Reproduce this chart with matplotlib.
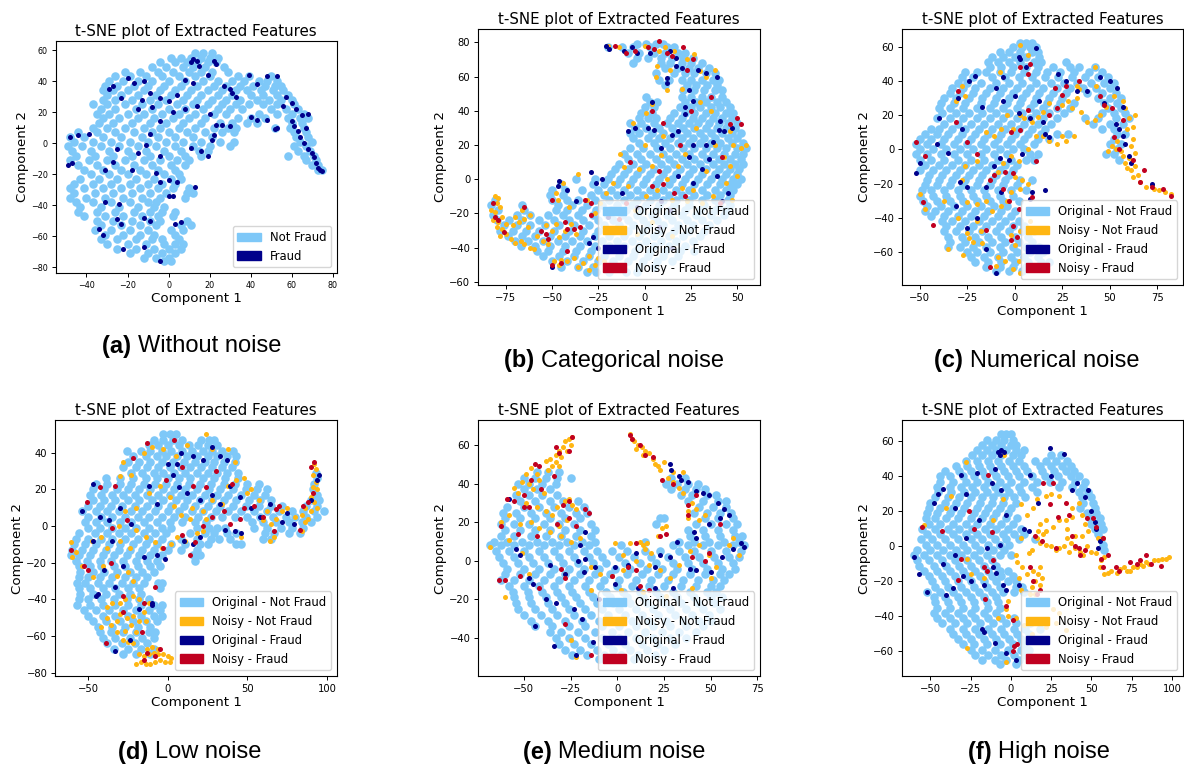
import numpy as np
import matplotlib
matplotlib.use("Agg")
import matplotlib.pyplot as plt
from matplotlib.patches import Patch

TITLE = "t-SNE plot of Extracted Features"
XLABEL = "Component 1"
YLABEL = "Component 2"
LEGEND_2 = ["Not Fraud", "Fraud"]
LEGEND_4 = ["Original - Not Fraud", "Noisy - Not Fraud", "Original - Fraud", "Noisy - Fraud"]
C_BLUE, C_ORANGE, C_NAVY, C_RED = "#7EC8F8", "#FFB612", "#00008B", "#C00020"

# Point clouds: (y, [x, ...]) rows for the dense class, (x, y) for the rest
a_blue = [(58,[13,17,21]),(55,[1,6,11,16,20,24]),(52,[-4,3,9,14,19,23]),(49,[-8,-1,7,12,18,27]),
(46,[-21,-14,-5,2,10,16,21,29]),(43,[-26,-19,-11,-3,5,13,20,34,39,50]),(40,[-29,-22,-15,-8,0,8,17,24,31,37,44,48,53]),
(37,[-31,-25,-17,-10,-2,6,14,22,28,35,41,47,52,55]),(34,[-32,-27,-20,-12,-4,3,11,19,26,33,38,45,51,56]),
(31,[-30,-23,-15,-6,1,9,16,24,31,40,46,53,58]),(28,[-32,-26,-18,-9,-1,7,14,21,28,35,43,49,55,60]),
(25,[-37,-30,-21,-13,-5,4,12,19,26,33,39,46,53,61]),(22,[-33,-26,-16,-8,0,8,17,24,30,36,50,57,63]),
(19,[-35,-29,-20,-12,-3,5,13,22,28,44,53,60,66]),(16,[-32,-24,-15,-7,2,10,18,34,40,47,58,64,68]),
(13,[-34,-27,-18,-9,-1,7,16,25,31,38,43,60,65]),(10,[-37,-30,-21,-12,-4,5,13,22,29,33,52,59,66]),
(7,[-44,-35,-26,-17,-8,0,9,18,26,32,61,67]),(4,[-48,-41,-32,-23,-13,-5,3,12,21,62,68]),
(1,[-46,-37,-28,-19,-10,-1,7,16,25,32,64,70]),(-2,[-49,-42,-33,-24,-15,-6,3,12,20,30,61,67]),
(-5,[-47,-38,-29,-20,-11,-2,6,15,19,63,69]),(-8,[-45,-36,-27,-18,-9,0,8,16,58,66,71]),
(-11,[-48,-39,-30,-21,-12,-4,4,10,67,72]),(-14,[-44,-35,-26,-17,-8,1,8,70,73]),(-17,[-41,-32,-23,-14,-5,3,73,75]),
(-20,[-38,-29,-20,-11,-2,5]),(-23,[-43,-34,-25,-16,-7,1,6]),(-26,[-46,-37,-28,-19,-10,-3,3]),
(-29,[-48,-41,-32,-23,-14,-5,2,10]),(-32,[-46,-36,-27,-18,-9,-1,9,12]),(-35,[-48,-40,-31,-22,-13,-4,8]),
(-38,[-45,-37,-28,-19,-10,-6]),(-41,[-43,-33,-24,-15,-7,-2]),(-44,[-44,-35,-26,-17,-9,-3,3]),
(-47,[-41,-31,-22,-13,-5,2]),(-50,[-35,-27,-18,-9,-4,9]),(-53,[-33,-23,-14,-6,6,11]),
(-56,[-36,-28,-19,-10,1,7]),(-59,[-31,-22,-14,-7,3]),(-62,[-33,-25,-16,-8,-3,5]),
(-65,[-30,-20,-11,-2,3,7]),(-68,[-25,-16,-7,0,6]),(-71,[-19,-10,-3,3]),(-74,[-12,-6,0]),(-76,[-2,1])]
a_navy = [(12,54),(14,53),(15,50),(11,52),(22,53),(23,51),(-20,42),(-17,39),(-12,40),(-29,35),(-27,37),(-23,29),(-13,28),
(-9,32),(-4,29),(0,27),(4,31),(8,41),(12,39),(19,44),(27,37),(30,35),(31,32),(33,30),(39,44),(48,43),(53,43),(43,38),
(-15,22),(-8,23),(2,20),(8,22),(14,24),(20,19),(26,12),(23,12),(22,5),(21,2),(30,11),(40,17),(43,15),(48,15),
(52,9),(53,10),(57,30),(60,26),(56,24),(62,22),(65,18),(68,19),(60,14),(61,11),(63,8),(67,10),(64,4),(66,0),(68,-4),
(70,-6),(71,-9),(72,-13),(74,-17),(75,-18),(73,-16),(-39,6),(-44,5),(-48,4),(-49,-14),(-47,-13),(-31,-17),(-27,-12),(-18,-17),
(-15,-6),(-11,-1),(-4,-8),(-6,-19),(-4,-25),(0,-24),(4,-25),(0,-34),(2,-34),(13,-28),(-24,-39),(-31,-38),(-25,-49),(-23,-52),
(-9,-50),(-12,-48),(-34,-55),(-32,-59),(-22,-68),(-12,-67),(-4,-76),(3,-52),(6,-51),(-25,-4),(-9,6),(-4,14),(11,-3),(19,-8),(16,-5)]

b_blue = [(79,[-4,1,6,10]),(77,[-20,-12,-6,3,12,16]),(74,[-9,-3,5,11,18,22]),(71,[-4,2,9,15,21,26]),(68,[-6,9,14,20,25,31]),
(65,[11,18,24,29,35]),(62,[6,16,22,27,33,38]),(58,[8,13,20,25,31,37,40]),(55,[11,23,28,34,39]),(52,[21,27,32,38,42]),
(48,[1,20,25,31,36,42]),(45,[3,7,22,28,33,39,44]),(42,[0,5,19,25,30,36,41,46]),(39,[-2,4,16,22,27,33,38,44,48]),
(36,[-3,2,6,14,20,26,31,37,42,47]),(33,[-8,-2,5,12,18,24,29,35,40,45,50]),(30,[-5,1,8,15,21,27,33,39,44,49]),
(27,[-8,-3,4,10,17,23,30,36,42,47,52]),(24,[-6,2,8,14,20,26,32,38,45,50]),(21,[-3,5,11,18,24,30,36,41,47,53]),
(18,[-8,-1,7,14,21,27,33,39,44,50,55]),(15,[-11,-4,3,10,17,24,31,37,43,49,53]),(12,[-9,-2,6,13,20,27,34,40,46,52]),
(9,[-14,-6,1,9,16,23,30,37,43,49,53]),(6,[-16,-9,-2,5,12,19,26,33,40,46,51]),(3,[-18,-11,-4,3,10,17,24,31,38,44,50]),
(0,[-37,-27,-20,-13,-6,1,8,15,22,29,36,42,48,52]),(-3,[-45,-28,-22,-15,-8,-1,6,13,20,27,34,41,46,50]),
(-6,[-50,-43,-34,-25,-18,-11,-4,3,10,17,24,31,38,44,48]),(-9,[-51,-44,-29,-22,-15,-8,-1,6,13,20,27,34,41,46]),
(-12,[-81,-50,-42,-36,-27,-19,-11,-4,3,10,17,24,31,38,45]),(-15,[-83,-66,-47,-39,-31,-23,-15,-7,1,8,16,24,32,40,46]),
(-18,[-79,-65,-48,-42,-34,-26,-18,-10,-2,6,14,22,30,38,44]),(-21,[-82,-69,-62,-52,-44,-36,-28,-20,-12,-4,4,12,20,28,36,43]),
(-24,[-80,-73,-66,-57,-49,-41,-33,-25,-17,-9,-1,7,15,23,31,39]),(-27,[-76,-69,-62,-54,-46,-38,-30,-22,-14,-6,2,10,18,26,35]),
(-30,[-78,-71,-64,-57,-49,-41,-33,-25,-17,-9,-1,8,16,24,32]),(-33,[-74,-66,-59,-51,-43,-35,-27,-19,-11,-3,5,13,21,30]),
(-36,[-70,-63,-55,-47,-39,-31,-23,-15,-7,1,9,17,26]),(-39,[-67,-59,-51,-43,-35,-27,-19,-11,-3,5,13,22]),
(-42,[-58,-52,-44,-37,-29,-21,-13,-5,3,11,19,27]),(-45,[-55,-46,-38,-30,-22,-14,-6,2,10,18]),
(-48,[-50,-42,-33,-25,-17,-9,-1,7,15]),(-51,[-45,-36,-28,-20,-12,-3,5]),(-54,[-31,-26,-19,-10,-4])]
b_orange = [(-81,-10),(-80,-14),(-79,-11),(-83,-18),(-81,-19),(-78,-16),(-82,-24),(-79,-25),(-77,-22),(-80,-28),(-77,-29),(-75,-26),
(-78,-33),(-75,-32),(-72,-35),(-71,-27),(-68,-25),(-70,-22),(-66,-18),(-65,-23),(-62,-21),(-63,-28),(-67,-36),(-70,-37),(-65,-38),(-62,-40),
(-60,-41),(-58,-33),(-55,-36),(-52,-38),(-50,-30),(-53,-27),(-48,-26),(-46,-34),(-43,-30),(-40,-26),(-37,-32),(-45,-47),(-49,-48),(-46,-50),
(-42,-48),(-38,-46),(-36,-51),(-33,-49),(-30,-45),(-30,-53),(-27,-50),(-25,-46),(-22,-48),(-41,-16),(-48,-8),(-47,-12),(-44,-2),(-36,3),
(-31,-12),(-27,-20),(-24,-14),(-21,-8),(-17,-2),(-13,15),(-9,-4),(-11,7),(-5,-18),(-3,6),(1,-10),(4,8),(7,-6),(9,14),(12,0),(15,-12),(18,8),(20,-5),
(-6,33),(1,39),(4,44),(12,52),(7,66),(6,60),(14,64),(20,53),(11,77),(16,75),(23,70),(27,73),(30,63),(33,60),(38,64),(30,45),(36,40),(28,30),(38,20),(46,28),
(43,13),(48,20),(52,18),(55,20),(46,8),(50,2),(44,-2),(47,-12),(33,5),(26,-6),(31,-14),(37,-10),(23,-13),(8,75),(0,78),(-14,77),(-20,78),(0,20),(10,25),(22,15),(4,-25),(-4,-32),(15,-33)]
b_navy = [(-21,78),(-19,76),(-11,75),(-7,77),(-4,74),(3,74),(14,75),(17,71),(17,66),(20,65),(12,59),(12,56),(29,64),(33,62),(39,60),(24,52),(26,46),(22,42),(22,38),(-9,28),(-5,30),(2,30),(5,29),
(4,45),(9,18),(15,26),(18,28),(26,20),(24,13),(33,20),(37,22),(40,29),(43,28),(47,30),(41,34),(18,2),(26,-2),(31,6),(35,12),(39,2),(45,-8),(42,-13),(-47,-4),(-42,-6),(-46,-1),(-26,-2),(-29,4),(-23,0),(-12,-8),(-4,-16),
(9,-13),(14,-18),(-30,-37),(-25,-40),(-28,-34),(-50,-51),(-37,-13),(-20,-22),(15,-40),(8,-28)]
b_red = [(-82,-14),(-81,-22),(-79,-24),(-76,-31),(-65,-16),(-56,-30),(-53,-32),(-52,-35),(-42,-29),(-38,-29),(-35,-28),(-42,-42),(-45,-49),(-50,-50),(-43,-25),(-32,-12),(-29,-14),(-50,-12),(-29,-21),
(-16,78),(-5,75),(-10,74),(2,77),(5,76),(8,81),(12,74),(15,72),(21,77),(23,64),(26,70),(10,33),(4,40),(19,20),(25,40),(36,48),(46,32),(50,36),(52,32),(42,13),(8,5),(10,-3),(-10,-14),(4,-4),(16,-8),(22,-10),(41,-14),(-8,10),(-14,-23)]

c_blue = [(62,[3,6,9]),(60,[-1,4,8,11]),(57,[-8,-3,3,9,12]),(54,[-12,-6,0,6,13]),(51,[-14,-9,-3,3,10,14,27]),(48,[-13,-7,-1,6,12,20,29,34,42]),
(45,[-26,-20,-15,-8,-2,5,11,17,24,31,39,46]),(42,[-28,-22,-12,-5,2,9,16,23,30,37,44,49]),(39,[-30,-25,-18,-10,-3,4,11,19,26,33,40,47,52]),
(36,[-33,-27,-21,-13,-6,1,8,15,22,29,36,43,50]),(33,[-34,-29,-22,-15,-8,-1,6,13,20,27,38,46,53]),(30,[-37,-31,-24,-17,-10,-3,4,11,18,25,44,50,56]),
(27,[-39,-32,-26,-18,-11,-4,3,10,17,24,31,47,54]),(24,[-40,-34,-27,-20,-13,-6,1,8,15,22,29,49,56]),(21,[-38,-31,-24,-17,-10,-3,4,11,18,26,46,52,58]),
(18,[-41,-34,-27,-20,-13,-6,1,8,15,22,37,44,53,60]),(15,[-37,-30,-23,-16,-9,-2,5,12,19,41,50,57]),(12,[-44,-40,-33,-26,-19,-12,-5,2,9,16,46,52]),
(9,[-47,-41,-35,-28,-21,-14,-7,0,7,14,22,28,54,58]),(6,[-50,-44,-37,-30,-23,-16,-9,-2,5,12,18,52]),(3,[-52,-46,-39,-32,-25,-18,-11,-4,3,10,50,56]),
(0,[-50,-43,-36,-29,-22,-15,-8,-1,5,54]),(-3,[-52,-46,-39,-32,-25,-18,-11,-4,8,12,48,52]),(-6,[-50,-44,-37,-30,-23,-16,-9,-2,6,10,55]),
(-9,[-47,-40,-33,-26,-19,-12,-5,1]),(-12,[-50,-43,-36,-29,-22,-15,-8,-1]),(-15,[-45,-38,-31,-24,-17,-10,-3]),(-18,[-46,-40,-33,-26,-19,-12,-5,3,9]),
(-21,[-47,-41,-34,-27,-20,-13,-6,1]),(-24,[-49,-44,-37,-30,-23,-16,-9,-2,6]),(-27,[-50,-43,-36,-29,-22,-15,-8,-1]),(-30,[-48,-41,-34,-27,-20,-13,-6,2]),
(-33,[-46,-39,-32,-25,-18,-11,-4]),(-36,[-47,-42,-35,-28,-21,-14,-7,0]),(-39,[-44,-37,-30,-23,-16,-9,-2]),(-42,[-38,-33,-26,-19,-12,-5,2]),
(-45,[-36,-29,-22,-15,-8,-1,5]),(-48,[-37,-31,-24,-17,-10,-3,4,10]),(-51,[-35,-28,-21,-14,-7,0,7]),(-54,[-34,-26,-19,-12,-5,2,9]),
(-57,[-35,-29,-22,-15,-8,-1,6,13]),(-60,[-25,-20,-13,-6,1,8,15]),(-63,[-23,-16,-9,-2,5,12]),(-66,[-21,-14,-7,0,7,14,18]),(-69,[-15,-8,-1,6,13]),(-71,[-10,-3,4])]
c_orange = [(82,-26),(79,-25),(76,-24),(73,-23),(72,-21),(69,-22),(66,-19),(65,-15),(62,-16),(61,-12),(63,-10),(59,-11),(58,-8),(60,-5),(57,-4),(56,-1),(53,0),(51,2),(49,-1),(54,5),(61,2),(63,-2),(62,6),(62,13),(59,12),(60,18),(63,20),(58,24),
(57,28),(52,31),(48,25),(45,20),(42,17),(38,16),(35,22),(30,24),(33,30),(28,28),(34,35),(43,37),(42,48),(33,37),(25,26),(18,27),(15,22),(12,19),(9,16),(5,18),(3,20),(11,8),(15,8),(18,5),(22,3),(25,8),(31,8),(27,5),(7,0),(2,-7),
(-2,-4),(-6,-8),(-9,-13),(0,-16),(4,-18),(7,-20),(3,-23),(-2,-25),(-4,-30),(-7,-33),(-12,-36),(-15,-30),(-20,-32),(-25,-31),(-20,-42),(-18,-48),(-25,-49),(-22,-54),(-17,-55),(-27,-62),(-9,-63),(-5,-65),(-10,-68),(-1,-70),(3,-72),(7,-68),
(2,-65),(0,-56),(-2,-50),(3,-48),(8,-42),(7,-36),(-24,-52),(-28,-18),(-30,-40),(-37,-30),(-31,28),(-26,31),(-28,37),(-4,20),(-1,12),(-7,12),(-11,8),(-15,10),(-20,-7),(-26,-10),(-50,-26),(-47,-35),(-35,-58),(-8,45),(3,61),(7,55)]
c_navy = [(6,48),(3,53),(2,54),(11,59),(-6,42),(-21,43),(-24,40),(-30,30),(-17,25),(-6,28),(2,21),(8,18),(15,16),(16,9),(18,7),(23,44),(27,40),(33,34),(38,34),(45,42),(50,40),(54,36),(47,27),(57,25),(53,15),(55,12),(57,8),(58,3),(60,-4),(61,-8),(72,-20),
(-50,-8),(-52,-14),(-41,3),(-35,-2),(-29,-19),(-25,-22),(-31,-33),(-20,-40),(-11,-10),(-8,-5),(-3,-6),(4,-3),(9,-25),(8,-29),(-7,-25),(-15,-22),(-25,-46),(-15,-58),(-10,-72),(-40,18),(-28,12),(-10,36),(0,31),(13,28),(16,-24)]
c_red = [(-52,4),(-47,-4),(-48,-31),(-43,-44),(-30,34),(-31,16),(-25,4),(-20,-3),(-13,-18),(-11,-15),(-5,-13),(-6,-23),(-1,-14),(-3,-30),(2,-35),(-1,-45),(-2,-53),(1,-51),(-13,-69),(-15,-47),(9,-28),(11,-7),
(3,48),(7,44),(8,50),(-2,10),(3,11),(7,23),(18,20),(21,36),(27,37),(22,24),(25,32),(34,40),(45,31),(47,26),(51,24),(57,17),(52,7),(55,0),(62,-6),(68,-12),(66,-19),(72,-22),(78,-23),(82,-27)]

d_blue = [(50,[-3,1,5]),(47,[-9,-3,3,9,21,26,29]),(44,[-12,-6,0,7,13,19,25,31]),(41,[-26,-17,-11,-4,2,9,15,22,28,34,41]),(38,[-22,-14,-7,-1,6,12,18,25,31,37,43]),
(35,[-25,-18,-11,-4,3,10,17,23,29,35,42]),(32,[-28,-20,-13,-6,1,8,14,21,28,34,40]),(29,[-23,-16,-9,-3,4,11,18,25,31,37,44,93]),(26,[-39,-30,-22,-14,-7,0,7,14,22,29,36,44,94]),
(23,[-45,-38,-30,-23,-15,-8,-1,6,13,20,27,35,42,50,57,92]),(20,[-47,-40,-32,-25,-18,-11,-3,4,11,18,26,33,41,49,56,62,91]),(17,[-49,-42,-35,-28,-21,-13,-6,1,8,15,23,31,38,46,54,61,94]),
(14,[-47,-40,-33,-25,-18,-10,-3,5,12,20,28,35,43,51,58,65,90,95]),(11,[-50,-43,-36,-29,-21,-13,-6,2,10,17,25,33,41,49,57,65,72,87,94]),(8,[-54,-45,-38,-31,-23,-16,-8,0,7,15,22,30,38,46,54,62,70,78,85,92,98]),
(5,[-50,-42,-35,-27,-19,-12,-4,4,11,19,27,34,42,50,58,66,74,80,87,94]),(2,[-52,-45,-38,-30,-23,-15,-7,1,9,17,24,53,60,68,76,84,90]),(-1,[-50,-43,-35,-27,-20,-12,-4,2,18,26,31,36,54,62,71,78,85]),
(-4,[-56,-46,-38,-31,-23,-15,-8,-1,14,23,29,37,43,61,67,76,83]),(-7,[-58,-50,-42,-35,-27,-19,-12,-4,8,18,27,32,39,60,65]),(-10,[-59,-52,-45,-37,-30,-22,-14,-7,2,11,20,25,43,46]),
(-13,[-60,-54,-47,-39,-31,-24,-16,-9,0,8,18]),(-16,[-61,-56,-49,-41,-34,-26,-18,-11,-4,16,20]),(-19,[-58,-51,-43,-36,-28,-20,-13,-7,17]),(-22,[-56,-49,-42,-34,-27,-19,-11,-5]),
(-25,[-55,-47,-40,-32,-24,-16,-9]),(-28,[-56,-50,-43,-35,-27,-20,-13]),(-31,[-57,-52,-44,-37,-29,-22,-15,-6,-4]),(-34,[-56,-49,-41,-33,-25,-18,-5]),(-37,[-55,-47,-39,-31,-24,-17]),
(-40,[-56,-50,-42,-34,-26,-18,-12]),(-43,[-57,-49,-41,-33,-25,-17,-9,-4]),(-46,[-53,-45,-37,-28,-20,-12,-5]),(-49,[-50,-41,-33,-25,-17,-9,-4]),(-52,[-47,-39,-30,-22,-14,-7]),
(-55,[-44,-35,-27,-19,-11]),(-58,[-43,-36,-28,-20,-12,-8]),(-61,[-41,-33,-24,-16,-9]),(-64,[-38,-29,-21,-13]),(-67,[-34,-25,-17,-9]),(-70,[-28,-20,-11])]
d_orange = [(-20,-75),(-17,-74),(-14,-75),(-11,-75),(-8,-74),(-5,-73),(-2,-74),(1,-74),(-18,-70),(-15,-71),(-12,-70),(-9,-69),(-6,-70),(-3,-70),(0,-71),(2,-72),(-13,-67),(-10,-66),(-6,-67),
(-28,-62),(-25,-63),(-22,-64),(-32,-58),(-27,-57),(-23,-54),(-20,-58),(-36,-54),(-32,-52),(-30,-48),(-26,-50),(-22,-49),(-18,-52),(-15,-47),(-38,-44),(-35,-42),(-30,-42),(-27,-40),(-22,-38),(-18,-40),(-12,-42),(-14,-52),(-38,-50),(-42,-55),
(-32,-27),(-25,-25),(-22,-30),(-47,-28),(-41,-22),(-54,-22),(-60,-17),(-61,-9),(-58,-14),(-48,-8),(-42,-6),(-38,-12),(-30,-8),(-24,-12),(-20,-2),(-14,-6),(-8,-9),(-4,-12),(2,-10),(6,-6),(11,-8),(18,-4),(22,-3),(24,4),(14,4),
(-31,0),(-27,8),(-20,10),(-12,18),(-5,22),(1,16),(4,11),(8,6),(15,10),(22,8),(28,14),(34,12),(38,22),(43,25),(48,26),(52,20),(57,14),(62,8),(60,3),(65,1),(68,4),(72,8),(75,10),(80,5),(84,6),(86,2),(88,4),(90,8),(84,-3),
(92,34),(93,31),(91,28),(93,24),(94,20),(91,21),(90,16),(92,13),(94,10),(86,10),(-28,35),(-23,28),(-30,27),(-15,40),(-10,43),(-3,42),(5,38),(12,44),(24,50),(28,42),(38,42),(42,35),(50,18),(64,-8),(67,-6),(46,-6)]
d_navy = [(-54,8),(-47,23),(-43,5),(-37,3),(-30,10),(-23,1),(-12,22),(-7,12),(0,34),(3,28),(8,40),(16,38),(22,36),(28,43),(33,38),(37,36),(7,21),(12,18),(20,14),(28,17),(33,12),(39,22),(45,16),(52,10),(58,5),(64,12),(72,2),(79,1),
(90,14),(95,28),(94,25),(75,7),(42,-3),(46,-4),(36,-2),(20,-6),(16,-10),(-2,-18),(-7,-16),(-15,-17),(-28,-22),(-33,-33),(-45,-38),(-44,-37),(-35,-8),(-40,-24),(-10,-43),(-10,-42),(-24,-62),(-33,-68),(-47,-8),(-18,-45),(10,-8),(6,34)]
d_red = [(-50,-24),(-61,-13),(-53,-22),(-39,-64),(-28,-47),(-28,-38),(-15,-42),(-16,-58),(-15,-73),(-8,-71),(-13,-69),(-5,-67),(-8,-33),(-36,-20),(-35,-1),(-26,3),(-51,13),(-43,21),(-33,22),(-22,37),(-13,45),(-1,25),(4,47),(9,32),(16,22),
(24,21),(30,30),(40,23),(35,8),(28,5),(17,-9),(14,-16),(-3,-12),(9,-5),(48,10),(54,11),(60,5),(67,-3),(70,11),(68,9),(83,-2),(85,11),(92,35),(90,32),(91,18),(88,13),(45,4),(39,1),(22,0)]

e_blue = [(46,[-43,-37,-31]),(43,[-50,-44,-38,-32,-25,29,36]),(40,[-53,-47,-40,-33,26,32,38,43]),(37,[-50,-43,-36,29,36,42,47]),(34,[-54,-47,-40,-32,34,40,48,53]),(31,[-52,-44,-36,-29,-21,38,46,54,58]),
(28,[-59,-50,-42,-34,-26,-18,44,51,58]),(25,[-61,-54,-46,-38,-30,-22,-16,41,48,55,61]),(22,[-60,-52,-44,-36,-28,-20,23,25,47,54,62]),(19,[-62,-55,-47,-39,-31,-23,-14,21,42,50,58,64]),(16,[-60,-52,-44,-36,-28,-20,-12,38,46,54,62]),
(13,[-62,-55,-46,-38,-30,-22,-14,39,47,55,63,67]),(10,[-66,-59,-51,-43,-35,-27,-19,-12,15,33,41,49,57,65]),(8,[-68,-62,-55,-47,-39,-31,-23,-15,2,30,38,46,54,62,68]),(5,[-65,-58,-50,-42,-34,-26,-18,-11,-3,5,15,23,33,41,50,58,66]),
(2,[-63,-55,-47,-39,-31,-23,-15,-8,1,9,18,27,36,44,52,60,65]),(-1,[-61,-53,-45,-37,-29,-21,-13,-6,4,12,21,30,38,46,54,62]),(-4,[-59,-50,-42,-34,-26,-18,-10,-1,7,16,24,32,40,48,56,63]),(-7,[-60,-52,-44,-36,-28,-20,-12,-4,5,13,22,30,39,47,55,60]),
(-10,[-62,-55,-47,-39,-31,-23,-15,-7,1,10,18,27,35,43,51,57]),(-13,[-58,-50,-42,-34,-26,-17,-9,0,8,17,25,34,42,50,55]),(-16,[-56,-48,-40,-32,-24,-15,-6,3,12,21,30,39,48,53]),(-19,[-55,-47,-38,-30,-22,-13,-4,5,14,23,32,41,50,56]),
(-22,[-54,-46,-37,-28,-20,-11,-2,7,16,25,34,43,52]),(-25,[-53,-44,-35,-26,-17,-8,1,10,19,28,37,46,55]),(-28,[-50,-41,-32,-23,-14,-5,4,13,22,31,40,49]),(-31,[-46,-37,-28,-19,-10,-1,8,17,26,35,44,50]),
(-34,[-44,-35,-26,-17,-8,1,10,19,28,37,46]),(-37,[-36,-30,-21,-12,-3,6,15,24,33,42]),(-40,[-33,-26,-17,-8,1,10,19,28,37]),(-43,[-31,-23,-14,-5,4,13,22,31]),(-46,[-28,-20,-11,-2,7,16,25]),(-49,[-24,-16,-7,2,11,20]),(-51,[-10,0,9])]
e_orange = [(-24,64),(-26,63),(-28,62),(-25,60),(-29,59),(-31,57),(-27,57),(-33,55),(-30,54),(-36,53),(-33,51),(-38,52),(-35,49),(-31,49),(-37,47),(-46,48),(-49,45),(-43,45),(-42,42),(-51,41),(-55,38),(-53,35),(-47,40),(-45,37),(-49,30),(-43,28),(-39,35),
(-38,26),(-35,24),(-32,28),(-28,31),(-26,32),(-24,29),(-22,27),(-27,21),(-31,18),(-30,13),(-36,15),(-42,17),(-25,10),(-20,12),(-46,20),(-52,19),(-58,24),(-62,20),(-68,7),(-58,11),(-51,4),(-47,-7),(-28,-7),(-14,-3),(-9,-7),(-3,-8),(3,-5),
(7,66),(8,63),(9,62),(11,60),(10,58),(13,59),(15,57),(14,55),(17,56),(19,53),(20,50),(22,49),(25,51),(23,47),(27,43),(30,41),(33,38),(35,35),(40,30),(38,26),(38,22),(42,27),(44,21),(47,24),(30,46),(35,46),
(12,10),(14,8),(16,9),(18,4),(15,6),(22,13),(24,17),(26,18),(7,9),(-1,9),(3,3),(10,0),(17,-2),(23,-5),(28,-9),(33,-2),(39,5),(44,8),(49,3),(53,-3),(60,8),(62,12),(65,3),(-14,-15),(2,-15),(14,-16),(26,-18),(40,-14),(50,-9),(-60,-19),(-25,-41),(-22,-50)]
e_navy = [(28,50),(29,47),(33,44),(34,42),(38,41),(42,36),(46,35),(49,34),(54,30),(57,27),(60,24),(55,22),(49,19),(41,15),(42,12),(32,10),(28,2),(23,3),(20,-3),(10,4),(6,-2),(-1,-3),(11,-14),(20,-14),(30,-14),(39,-4),(42,-5),(50,-6),(56,2),(62,6),(66,9),(68,7),
(-21,0),(-17,1),(-12,-3),(-18,-6),(-28,-7),(-36,-2),(-45,-12),(-54,6),(-52,3),(-47,-9),(-38,-20),(-33,-22),(-23,-25),(-19,-30),(-44,-34),(-34,-44),(-22,-49),(-13,-42),(-10,-20),(-1,-12),(-58,32),(-17,15),(-20,8)]
e_red = [(-24,64),(-31,56),(-33,59),(-26,57),(-44,50),(-42,49),(-34,44),(-46,42),(-41,37),(-50,34),(-59,32),(-55,31),(-50,28),(-47,28),(-62,18),(-29,29),(-26,31),(-17,27),(-15,25),(-26,22),(-32,19),(-22,18),(-43,13),(-53,14),
(7,65),(8,63),(12,60),(15,55),(19,54),(24,42),(30,40),(42,34),(38,29),(38,24),(55,19),(26,14),(23,13),(10,9),(-3,-8),(6,-3),(10,-5),(12,-13),(17,-15),(40,2),(47,0),(49,4),(-30,-4),(-28,-9),(-63,-10),(-60,-10),(-42,-14),(-52,-8),(-28,-33),(-14,-49)]

f_blue = [(64,[-6,-3,0]),(61,[-15,-9,-4,1]),(58,[-18,-12,-6,0,3]),(55,[-21,-15,-9,-3,3,8]),(52,[-24,-18,-12,-6,1,6,25,31]),(49,[-28,-21,-14,-8,-1,5,15,22,28,35]),
(46,[-34,-27,-20,-13,-6,1,8,18,25,32,37]),(43,[-41,-32,-25,-18,-11,-4,3,10,19,27,34,39]),(40,[-44,-38,-30,-23,-16,-9,-2,5,13,21,29,37,42]),(37,[-44,-36,-28,-21,-14,-7,0,8,16,24,32,40,46]),
(34,[-46,-38,-31,-24,-17,-10,-3,5,13,30,38,45]),(31,[-45,-37,-29,-22,-15,-8,-1,6,16,42,48]),(28,[-47,-39,-32,-25,-18,-11,-4,2,9,44,50]),(25,[-50,-41,-34,-27,-19,-12,-5,3,45,51]),(22,[-51,-44,-36,-29,-21,-14,-7,0,43,52]),
(19,[-52,-46,-38,-31,-23,-16,-9,-2,47,53]),(16,[-53,-47,-40,-33,-25,-18,-11,-3,4,49,55]),(13,[-51,-44,-36,-28,-21,-13,-6,1,50,56]),(10,[-55,-47,-39,-32,-24,-16,-9,-2,6,52,57]),(7,[-52,-44,-36,-28,-21,-13,-5,2,8,54]),
(4,[-56,-49,-41,-33,-25,-18,-10,-3,5,15,56]),(1,[-53,-46,-38,-30,-22,-14,-7,-1,57]),(-2,[-58,-50,-42,-34,-27,-19,-11,-4,58]),(-5,[-60,-54,-46,-38,-31,-23,-15,-7,0]),(-8,[-58,-51,-43,-35,-27,-20,-12]),
(-11,[-57,-48,-40,-32,-25,-17,-9]),(-14,[-54,-46,-38,-30,-22,-14,-7,-2]),(-17,[-51,-43,-35,-27,-19,-12,-6,1]),(-20,[-49,-41,-33,-25,-17,-9,-2,3]),(-23,[-47,-39,-31,-23,-15,-7,3,7]),
(-26,[-52,-44,-36,-28,-20,-12,-5,2,8]),(-29,[-48,-41,-33,-25,-17,-9]),(-32,[-47,-39,-31,-23,-15,-8]),(-35,[-46,-38,-30,-22,-14,-7]),(-38,[-48,-41,-33,-25,-17,-9]),(-41,[-46,-38,-30,-22,-14,-6,2]),
(-44,[-43,-35,-27,-19,-11,-3,3,12]),(-47,[-38,-30,-22,-14,-6,2,9,18]),(-50,[-36,-28,-20,-12,-4,4,11]),(-53,[-33,-25,-17,-9,-1,6,14]),(-56,[-30,-23,-15,-7,1,8]),(-59,[-25,-18,-10,-2,6,11]),
(-62,[-22,-14,-6,2,9]),(-65,[-18,-10,-3,5]),(-67,[-7,3])]
f_orange = [(98,-6),(96,-7),(94,-7),(91,-8),(89,-8),(86,-10),(84,-9),(82,-11),(80,-10),(78,-12),(76,-12),(74,-14),(72,-14),(70,-12),(68,-13),(66,-15),(62,-14),(60,-15),(58,-16),(55,-12),(56,-8),(58,-6),(53,-4),(50,-3),(47,0),(45,-5),(43,-3),(40,-1),(37,2),(35,5),
(36,-3),(33,0),(30,-1),(28,-2),(25,0),(22,1),(18,2),(16,5),(20,7),(17,9),(22,9),(18,13),(22,15),(26,11),(30,15),(34,15),(38,17),(44,18),(46,13),(48,9),(44,6),(40,6),(35,10),(54,5),(57,5),(38,22),(42,25),(30,29),(25,30),(22,29),(16,27),(14,22),(6,24),(10,18),(6,5),(3,-5),(4,-9),(11,-4),(13,-2),
(18,-12),(14,-14),(10,-16),(5,-18),(7,-12),(17,-16),(15,-20),(18,-22),(13,-23),(12,-27),(15,-27),(19,-18),(6,-25),(-2,-31),(-3,-36),(-2,-40),(-8,-41),(3,-41),(8,-45),(13,-50),(22,-46),(28,-44),(34,-48),(30,-38),(26,-36),(-27,-58),(-3,-66),(-27,-7),(-37,29),(-40,22),(-28,48),(-4,52),(-5,27),(-11,15),(-25,-16),(-17,-18),(-54,12)]
f_navy = [(-6,55),(-4,54),(-8,54),(-7,52),(24,56),(33,53),(25,40),(12,41),(-10,44),(-21,42),(-31,41),(-45,30),(-48,25),(-42,33),(-35,22),(-28,30),(-12,36),(-6,32),(-3,18),(8,10),(11,9),(17,25),(38,32),(41,36),(48,32),(46,28),(50,20),(52,14),(53,10),(55,3),(54,-1),
(-60,-6),(-57,-16),(-52,-26),(-40,-28),(-36,-24),(-30,-17),(-25,-20),(-17,-22),(-11,-12),(-9,-15),(-5,-22),(-3,-25),(-18,-47),(-17,-49),(-10,-55),(-3,-61),(3,-65),(-42,-10),(-35,-5),(-28,5),(-20,15),(-15,-1),(5,-22),(-7,1)]
f_red = [(-55,11),(-43,9),(-26,20),(-23,10),(-12,8),(-14,41),(-31,-7),(-11,-8),(-17,-12),(-15,-14),(-33,-19),(-16,-30),(12,-12),(14,-20),(16,-27),(18,-25),(-3,-34),(1,-42),(2,-57),(4,-56),(1,-60),
(20,36),(26,36),(24,24),(34,25),(36,18),(29,17),(15,6),(19,3),(28,-1),(38,6),(40,0),(42,-1),(46,-2),(43,-5),(47,16),(51,16),(53,11),(57,5),(56,-7),(57,-12),(60,-5),(65,-12),(67,-14),(74,-9),(78,-10),(80,-8),(84,-5),(87,-10),(93,-11)]

PANELS = [
 dict(blue=a_blue, navy=a_navy, orange=None, red=None, px=(55.5,40.7,337,273), xlim=(-55.1,82.1), ylim=(-83.6,66),
      xt=[-40,-20,0,20,40,60,80], yt=[-80,-60,-40,-20,0,20,40,60], tick=5.8, bold="(a)", cap="Without noise", capx=137.5, capy=346),
 dict(blue=b_blue, navy=b_navy, orange=b_orange, red=b_red, px=(478,29,760,285), xlim=(-90,62.4), ylim=(-61.8,87.8),
      xt=[-75,-50,-25,0,25,50], yt=[-60,-40,-20,0,20,40,60,80], tick=7.2, bold="(b)", cap="Categorical noise", capx=541, capy=361),
 dict(blue=c_blue, navy=c_navy, orange=c_orange, red=c_red, px=(902,29,1183,285), xlim=(-59.3,88.5), ylim=(-79.3,70.3),
      xt=[-50,-25,0,25,50,75], yt=[-60,-40,-20,0,20,40,60], tick=7.2, bold="(c)", cap="Numerical noise", capx=969.5, capy=361),
 dict(blue=d_blue, navy=d_navy, orange=d_orange, red=d_red, px=(55,420,337,676), xlim=(-71,106.3), ylim=(-81.8,57.8),
      xt=[-50,0,50,100], yt=[-80,-60,-40,-20,0,20,40], tick=7.2, bold="(d)", cap="Low noise", capx=155, capy=752),
 dict(blue=e_blue, navy=e_navy, orange=e_orange, red=e_red, px=(478,420,760,676), xlim=(-74.5,76.4), ylim=(-59.7,73),
      xt=[-50,-25,0,25,50,75], yt=[-40,-20,0,20,40,60], tick=7.2, bold="(e)", cap="Medium noise", capx=558, capy=752),
 dict(blue=f_blue, navy=f_navy, orange=f_orange, red=f_red, px=(902,420,1183,676), xlim=(-67.6,106.8), ylim=(-74.1,72.2),
      xt=[-50,-25,0,25,50,75,100], yt=[-60,-40,-20,0,20,40,60], tick=7.2, bold="(f)", cap="High noise", capx=998, capy=752),
]

W, H, DPI = 1184, 764, 100
fig = plt.figure(figsize=(W/DPI, H/DPI), dpi=DPI)

def rows_to_xy(rows):
    xs = [x for _, r in rows for x in r]
    ys = [y for y, r in rows for _ in r]
    return xs, ys

def pts(ax, data, color, size=13, z=2):
    if data:
        x, y = zip(*data)
        ax.scatter(x, y, s=size, c=color, linewidths=0, zorder=z)

for p in PANELS:
    l, t, r, b = p["px"]
    ax = fig.add_axes([l/W, 1-b/H, (r-l)/W, (b-t)/H])
    bx, by = rows_to_xy(p["blue"])
    ax.scatter(bx, by, s=38, c=C_BLUE, linewidths=0, zorder=2)
    pts(ax, p["orange"], C_ORANGE, z=3)
    pts(ax, p["navy"], C_NAVY, z=4)
    pts(ax, p["red"], C_RED, z=5)
    ax.set_xlim(*p["xlim"]); ax.set_ylim(*p["ylim"])
    ax.set_xticks(p["xt"]); ax.set_yticks(p["yt"])
    ax.tick_params(labelsize=p["tick"], length=3, width=0.7, pad=2.5)
    ax.set_title(TITLE, fontsize=10.85, pad=3.5)
    ax.set_xlabel(XLABEL, fontsize=9.6, labelpad=1.5)
    ax.set_ylabel(YLABEL, fontsize=9.6, labelpad=1.5)
    if p["orange"] is None:
        hs = [Patch(color=C_BLUE), Patch(color=C_NAVY)]; labs = LEGEND_2
    else:
        hs = [Patch(color=C_BLUE), Patch(color=C_ORANGE), Patch(color=C_NAVY), Patch(color=C_RED)]; labs = LEGEND_4
    leg = ax.legend(hs, labs, loc="lower right", fontsize=8.4)
    leg.set_zorder(10)
    fig.text(p["capx"]/W, 1-p["capy"]/H, p["bold"]+" ", ha="right", va="center", family="Liberation Sans", fontweight="bold", fontsize=17)
    fig.text(p["capx"]/W, 1-p["capy"]/H, p["cap"], ha="left", va="center", family="Liberation Sans", fontsize=17)

fig.savefig("out.png", dpi=DPI)
